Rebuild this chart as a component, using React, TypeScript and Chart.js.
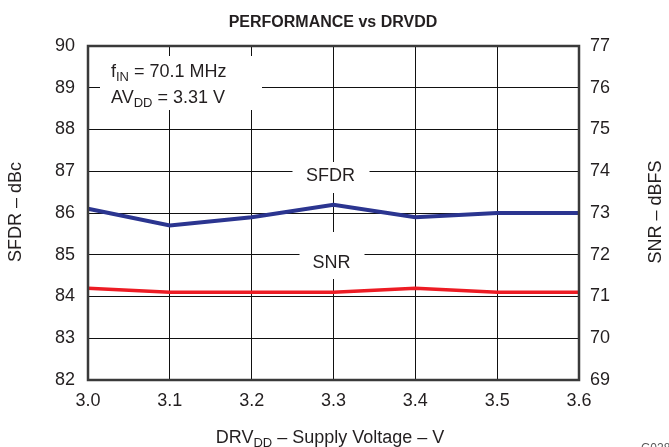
import React, { useEffect, useRef } from 'react';
import { Chart, registerables } from 'chart.js';

Chart.register(...registerables);

const xLabels = ['3.0', '3.1', '3.2', '3.3', '3.4', '3.5', '3.6'];
const sfdrValues = [86.1, 85.7, 85.9, 86.2, 85.9, 86.0, 86.0];
const snrValues = [71.2, 71.1, 71.1, 71.1, 71.2, 71.1, 71.1];
const leftRange = [82, 90];
const rightRange = [69, 77];
const chartTitle = 'PERFORMANCE vs DRVDD';
const leftTitle = 'SFDR – dBc';
const rightTitle = 'SNR – dBFS';
const noteLine1 = [{ t: 'f' }, { t: 'IN', sub: true }, { t: ' = 70.1 MHz' }];
const noteLine2 = [{ t: 'AV' }, { t: 'DD', sub: true }, { t: ' = 3.31 V' }];
const xTitle = [{ t: 'DRV' }, { t: 'DD', sub: true }, { t: ' – Supply Voltage – V' }];
const figId = 'G028';

const FONT = '"Liberation Sans", Arial, Helvetica, sans-serif';
const TEXT = '#231f20';
const BLUE = '#2b3590';
const RED = '#ed1c24';

type Part = { t: string; sub?: boolean };

function richWidth(ctx: CanvasRenderingContext2D, parts: Part[], size: number, sub: number) {
  let w = 0;
  for (const p of parts) {
    ctx.font = `${p.sub ? sub : size}px ${FONT}`;
    w += ctx.measureText(p.t).width;
  }
  return w;
}

function drawRich(ctx: CanvasRenderingContext2D, parts: Part[], x: number, y: number, size: number, sub: number, align: 'left' | 'center') {
  const w = richWidth(ctx, parts, size, sub);
  let cx = align === 'center' ? x - w / 2 : x;
  ctx.textAlign = 'left';
  ctx.textBaseline = 'alphabetic';
  for (const p of parts) {
    ctx.font = `${p.sub ? sub : size}px ${FONT}`;
    ctx.fillText(p.t, cx, p.sub ? y + 4 : y);
    cx += ctx.measureText(p.t).width;
  }
}

const overlay = {
  id: 'overlay',
  beforeDatasetsDraw(chart: any) {
    const { ctx, scales } = chart;
    const x = scales.x;
    const cx = x.getPixelForValue(3);
    ctx.save();
    ctx.fillStyle = '#ffffff';
    // note box
    ctx.fillRect(100, 56, 162, 54);
    // SFDR label box
    ctx.fillRect(cx - 41, 162, 77, 31);
    // SNR label box
    ctx.fillRect(cx - 34, 232, 65, 47);
    ctx.restore();
  },
  afterDraw(chart: any) {
    const { ctx, chartArea, scales } = chart;
    const cx = scales.x.getPixelForValue(3);
    ctx.save();
    ctx.fillStyle = TEXT;
    // Title
    ctx.font = `bold 16px ${FONT}`;
    ctx.textAlign = 'center';
    ctx.textBaseline = 'alphabetic';
    ctx.fillText(chartTitle, 333, 27);
    // Series labels
    ctx.font = `18px ${FONT}`;
    ctx.textBaseline = 'middle';
    ctx.fillText('SFDR', cx - 3, 176);
    ctx.fillText('SNR', cx - 2, 263);
    // Notes
    drawRich(ctx, noteLine1, 111, 77, 18, 13, 'left');
    drawRich(ctx, noteLine2, 111, 103, 18, 13, 'left');
    // X title
    drawRich(ctx, xTitle, 330, 443, 18, 13, 'center');
    // Y titles
    ctx.font = `18px ${FONT}`;
    ctx.textAlign = 'center';
    ctx.textBaseline = 'middle';
    ctx.save();
    ctx.translate(16, 212);
    ctx.rotate(-Math.PI / 2);
    ctx.fillText(leftTitle, 0, 0);
    ctx.restore();
    ctx.save();
    ctx.translate(656, 212);
    ctx.rotate(-Math.PI / 2);
    ctx.fillText(rightTitle, 0, 0);
    ctx.restore();
    // figure id
    ctx.fillStyle = '#555';
    ctx.font = `12px ${FONT}`;
    ctx.textAlign = 'left';
    ctx.textBaseline = 'top';
    ctx.fillText(figId, 641, 443);
    // border
    ctx.strokeStyle = '#3a3a3a';
    ctx.lineWidth = 2.5;
    ctx.strokeRect(chartArea.left, chartArea.top, chartArea.right - chartArea.left, chartArea.bottom - chartArea.top);
    ctx.restore();
  },
};

export default function App() {
  const ref = useRef<HTMLCanvasElement | null>(null);
  useEffect(() => {
    if (!ref.current) return;
    const tickFont = { family: FONT, size: 18 };
    const chart = new Chart(ref.current, {
      type: 'line',
      data: {
        labels: xLabels,
        datasets: [
          { label: 'SFDR', data: sfdrValues, yAxisID: 'yL', borderColor: BLUE, borderWidth: 4, pointRadius: 0, tension: 0, fill: false },
          { label: 'SNR', data: snrValues, yAxisID: 'yR', borderColor: RED, borderWidth: 3.5, pointRadius: 0, tension: 0, fill: false },
        ],
      },
      options: {
        responsive: false,
        animation: false,
        devicePixelRatio: 1,
        layout: { padding: { top: 46, left: 0, right: 0, bottom: 0 } },
        plugins: { legend: { display: false }, title: { display: false }, tooltip: { enabled: false } },
        scales: {
          x: {
            type: 'category',
            offset: false,
            grid: { color: '#111', lineWidth: 1, drawTicks: false, offset: false },
            border: { display: false },
            ticks: { padding: 10, color: TEXT, font: tickFont, maxRotation: 0, autoSkip: false },
            afterFit(s: any) { s.height = 67; },
          },
          yL: {
            position: 'left',
            min: leftRange[0],
            max: leftRange[1],
            grid: { color: '#111', lineWidth: 1, drawTicks: false },
            border: { display: false },
            ticks: { stepSize: 1, padding: 13, color: TEXT, font: tickFont },
            afterFit(s: any) { s.width = 88; },
          },
          yR: {
            position: 'right',
            min: rightRange[0],
            max: rightRange[1],
            grid: { drawOnChartArea: false, drawTicks: false },
            border: { display: false },
            ticks: { stepSize: 1, padding: 11, color: TEXT, font: tickFont },
            afterFit(s: any) { s.width = 90; },
          },
        },
      },
      plugins: [overlay],
    } as any);
    return () => chart.destroy();
  }, []);
  return (
    <div style={{ position: 'fixed', left: 0, top: 0, width: 669, height: 447, background: '#fff' }}>
      <canvas ref={ref} width={669} height={447} style={{ display: 'block' }} />
    </div>
  );
}
